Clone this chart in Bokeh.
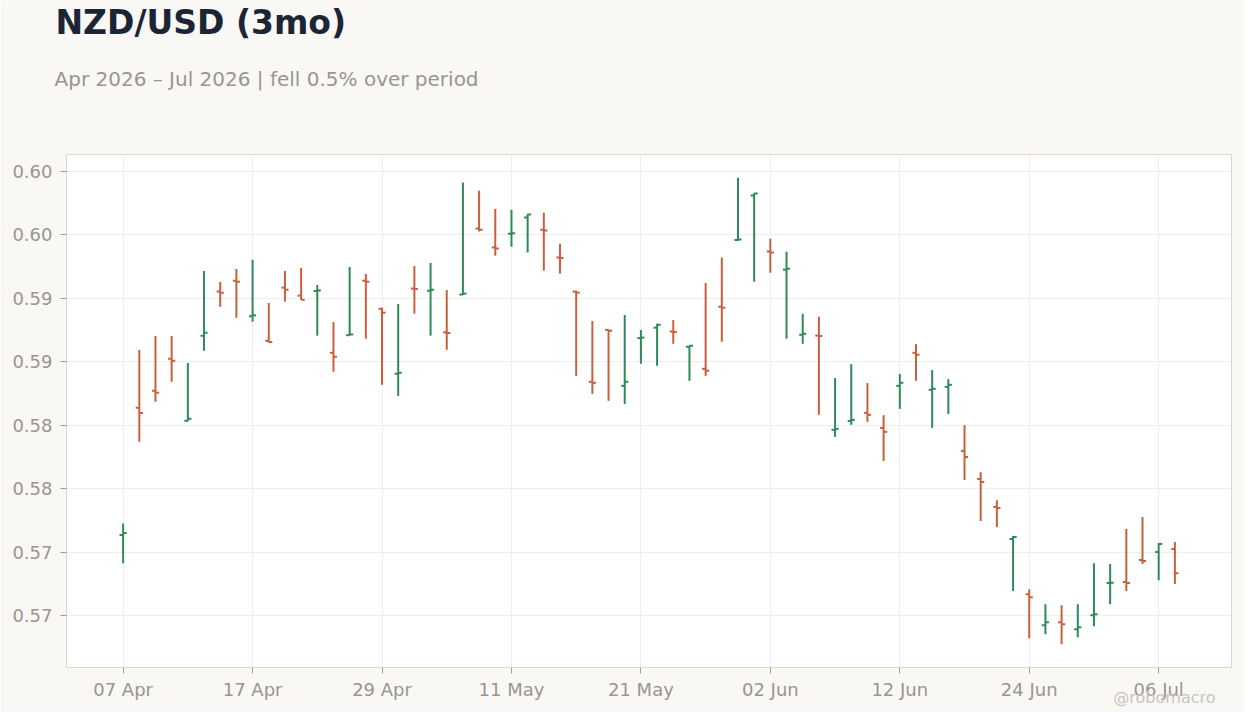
import pandas as pd
from bokeh.plotting import figure
from bokeh.models import ColumnDataSource, FixedTicker, PrintfTickFormatter, Range1d, Title
from bokeh.embed import file_html
from bokeh.resources import INLINE

# 交易日 (business days)
dates = pd.bdate_range("2026-04-07", periods=66)

opens = [0.57634, 0.58636, 0.58770, 0.59022, 0.58535, 0.59204, 0.59551, 0.59637, 0.59357, 0.59164,
         0.59582, 0.59519, 0.59556, 0.59069, 0.59208, 0.59637, 0.59416, 0.58904, 0.59575, 0.59558,
         0.59230, 0.59528, 0.60047, 0.59898, 0.60006, 0.60134, 0.60039, 0.59820, 0.59551, 0.58841,
         0.59250, 0.58809, 0.59185, 0.59267, 0.59237, 0.59117, 0.58943, 0.59432, 0.59957, 0.60308,
         0.59866, 0.59724, 0.59211, 0.59205, 0.58462, 0.58533, 0.58596, 0.58478, 0.58809, 0.59069,
         0.58778, 0.58801, 0.58297, 0.58076, 0.57855, 0.57603, 0.57169, 0.56925, 0.56948, 0.56893,
         0.57003, 0.57256, 0.57264, 0.57437, 0.57500, 0.57524]
highs = [0.57726, 0.59091, 0.59201, 0.59201, 0.58988, 0.59714, 0.59627, 0.59730, 0.59801, 0.59461,
         0.59714, 0.59737, 0.59603, 0.59312, 0.59745, 0.59690, 0.59424, 0.59454, 0.59753, 0.59777,
         0.59564, 0.60410, 0.60345, 0.60203, 0.60195, 0.60162, 0.60171, 0.59927, 0.59558, 0.59319,
         0.59251, 0.59367, 0.59249, 0.59298, 0.59327, 0.59125, 0.59619, 0.59819, 0.60447, 0.60325,
         0.59968, 0.59864, 0.59377, 0.59353, 0.58870, 0.58980, 0.58831, 0.58578, 0.58902, 0.59138,
         0.58933, 0.58862, 0.58499, 0.58129, 0.57908, 0.57626, 0.57208, 0.57090, 0.57082, 0.57090,
         0.57413, 0.57406, 0.57682, 0.57776, 0.57571, 0.57579]
lows = [0.57413, 0.58368, 0.58683, 0.58841, 0.58530, 0.59085, 0.59432, 0.59346, 0.59314, 0.59150,
        0.59472, 0.59485, 0.59204, 0.58920, 0.59205, 0.59180, 0.58817, 0.58730, 0.59377, 0.59204,
        0.59093, 0.59525, 0.60024, 0.59834, 0.59905, 0.59858, 0.59716, 0.59692, 0.58888, 0.58746,
        0.58691, 0.58667, 0.58983, 0.58967, 0.59140, 0.58849, 0.58888, 0.59156, 0.59952, 0.59629,
        0.59700, 0.59180, 0.59140, 0.58581, 0.58407, 0.58502, 0.58525, 0.58218, 0.58628, 0.58849,
        0.58478, 0.58588, 0.58068, 0.57745, 0.57697, 0.57193, 0.56822, 0.56854, 0.56775, 0.56830,
        0.56917, 0.57090, 0.57193, 0.57406, 0.57279, 0.57248]
closes = [0.57650, 0.58596, 0.58754, 0.59006, 0.58549, 0.59227, 0.59543, 0.59629, 0.59364, 0.59154,
          0.59566, 0.59487, 0.59560, 0.59038, 0.59214, 0.59629, 0.59385, 0.58912, 0.59572, 0.59566,
          0.59225, 0.59535, 0.60039, 0.59890, 0.60010, 0.60158, 0.60032, 0.59816, 0.59543, 0.58833,
          0.59243, 0.58841, 0.59189, 0.59290, 0.59233, 0.59125, 0.58928, 0.59424, 0.59961, 0.60323,
          0.59858, 0.59732, 0.59219, 0.59201, 0.58470, 0.58541, 0.58581, 0.58447, 0.58833, 0.59054,
          0.58786, 0.58817, 0.58249, 0.58052, 0.57847, 0.57619, 0.57145, 0.56948, 0.56932, 0.56909,
          0.57011, 0.57258, 0.57256, 0.57429, 0.57563, 0.57334]

y_ticks = [0.570, 0.575, 0.580, 0.585, 0.590, 0.595, 0.600, 0.605]
tick_idx = list(range(0, len(dates), 8))
tick_labels = [dates[i].strftime("%d %b") for i in tick_idx]

UP = "#2e8b57"
DOWN = "#c8603e"
GREY = "#9a958f"
BG = "#f9f8f5"
FONT = "DejaVu Sans"

n = len(dates)
idx = list(range(n))
colors = [UP if c >= o else DOWN for o, c in zip(opens, closes)]
source = ColumnDataSource(data=dict(
    x=idx, x_l=[i - 0.22 for i in idx], x_r=[i + 0.22 for i in idx],
    open=opens, high=highs, low=lows, close=closes, color=colors,
))

span = max(highs) - min(lows)
y_lo = min(lows) - 0.05 * span
y_hi = max(highs) + 0.05 * span
p = figure(width=1244, height=712, output_backend="svg", toolbar_location=None, tools="",
           x_range=Range1d(-3.5, n + 2.5), y_range=Range1d(y_lo, y_hi),
           min_border_left=66, min_border_right=13, min_border_top=0, min_border_bottom=45)

p.border_fill_color = BG
p.background_fill_color = "white"
p.outline_line_color = "#ddd8d0"

# OHLC: 高低线 + 开盘(左) + 收盘(右)
p.segment("x", "low", "x", "high", source=source, color="color", line_width=2)
p.segment("x_l", "open", "x", "open", source=source, color="color", line_width=2)
p.segment("x", "close", "x_r", "close", source=source, color="color", line_width=2)

p.xaxis.ticker = FixedTicker(ticks=tick_idx)
p.xaxis.major_label_overrides = dict(zip(tick_idx, tick_labels))
p.yaxis.ticker = FixedTicker(ticks=y_ticks)
p.yaxis.formatter = PrintfTickFormatter(format="%.2f")

for ax in (p.xaxis, p.yaxis):
    ax.axis_line_color = None
    ax.major_tick_in = 0
    ax.major_tick_out = 6
    ax.major_tick_line_color = "#a09b95"
    ax.minor_tick_line_color = None
    ax.major_label_text_color = GREY
    ax.major_label_text_font = FONT
    ax.major_label_text_font_size = "18px"
p.yaxis.major_label_standoff = 8
p.xaxis.major_label_standoff = 5

p.grid.grid_line_color = "#eeeeee"
p.grid.grid_line_width = 1

# above: 先加的靠近图. 空白 spacer -> 副标题 -> 标题
p.add_layout(Title(text=" ", standoff=28.2, text_font=FONT, text_font_size="10px",
                   text_color=BG), "above")
p.add_layout(Title(text="Apr 2026 – Jul 2026 | fell 0.5% over period", align="left", offset=-12,
                   standoff=46, text_font=FONT, text_font_size="20px", text_font_style="normal",
                   text_color=GREY), "above")
p.add_layout(Title(text="NZD/USD (3mo)", align="left", offset=-11, standoff=0,
                   text_font=FONT, text_font_size="33px", text_font_style="bold",
                   text_color="#1b2535"), "above")

# 水印: x 轴下方, 负 standoff 往上挪
p.add_layout(Title(text="@robomacro", align="right", offset=16, standoff=-29, vertical_align="top",
                   text_font=FONT, text_font_size="16px", text_font_style="normal",
                   text_color="#c9c5c0"), "below")

open("out.html", "w").write(file_html(p, INLINE))
